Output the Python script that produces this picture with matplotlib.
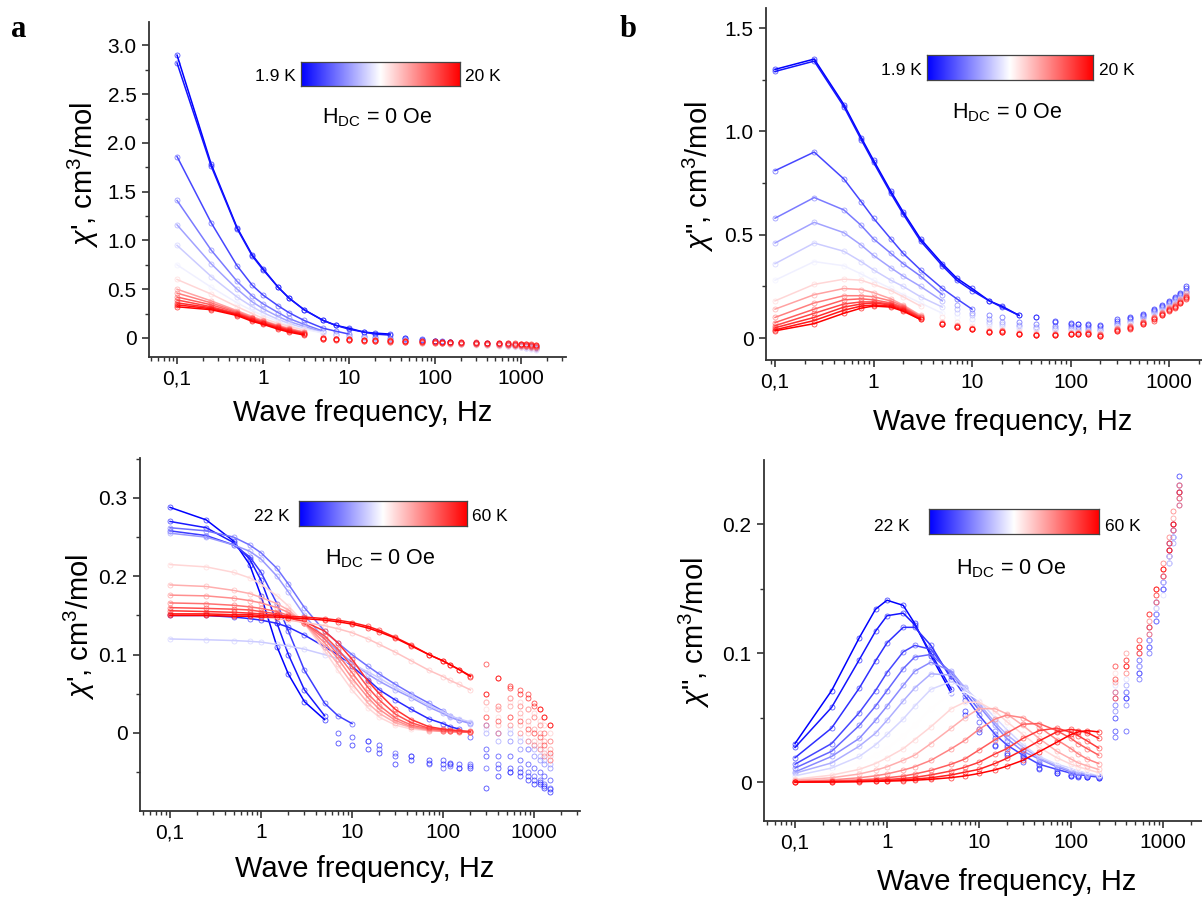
import matplotlib.pyplot as plt
import numpy as np
from matplotlib.ticker import FixedLocator, LogLocator, MultipleLocator, NullFormatter, FuncFormatter

plt.rcParams['font.family'] = ['Liberation Sans', 'DejaVu Sans']
plt.rcParams['mathtext.fontset'] = 'custom'
plt.rcParams['mathtext.rm'] = 'Liberation Sans'
plt.rcParams['mathtext.it'] = 'Liberation Sans:italic'

# measured frequencies, Hz
freq = [0.1, 0.25, 0.5, 0.75, 1, 1.5, 2, 3, 5, 7, 10, 15, 20, 30, 45, 70, 100,
        120, 150, 200, 300, 400, 550, 700, 850, 1000, 1150, 1300, 1500]

# ---- 1.9 - 20 K ----
low_cpos = [0.0, 0.04, 0.14, 0.24, 0.32, 0.40, 0.47, 0.58, 0.68, 0.75, 0.81, 0.86, 0.91, 0.955, 1.0]
low_chi1_end = [30, 30, 10, 5, 5, 5, 5, 3, 3, 3, 3, 3, 3, 3, 3]
low_chi2_end = [30, 30, 10, 5, 5, 5, 5, 3, 3, 3, 3, 3, 3, 3, 3]

low_chi1 = [
    [2.90, 1.78, 1.13, 0.85, 0.71, 0.52, 0.41, 0.29, 0.18, 0.13, 0.10, 0.06, 0.05, 0.04, 0.00, -0.02, -0.03, -0.04, -0.04, -0.05, -0.05, -0.05, -0.06, -0.06, -0.07, -0.07, -0.08, -0.08, -0.09],
    [2.82, 1.76, 1.12, 0.84, 0.70, 0.52, 0.41, 0.29, 0.18, 0.13, 0.09, 0.06, 0.04, 0.03, 0.00, -0.01, -0.03, -0.03, -0.04, -0.05, -0.05, -0.06, -0.06, -0.07, -0.07, -0.08, -0.08, -0.09, -0.10],
    [1.86, 1.18, 0.74, 0.54, 0.44, 0.33, 0.26, 0.18, 0.10, 0.07, 0.04, 0.02, 0.01, 0.00, -0.01, -0.02, -0.03, -0.04, -0.04, -0.05, -0.05, -0.06, -0.06, -0.07, -0.07, -0.08, -0.09, -0.09, -0.10],
    [1.41, 0.90, 0.58, 0.43, 0.35, 0.26, 0.20, 0.14, 0.07, 0.04, 0.02, 0.01, 0.00, -0.01, -0.02, -0.03, -0.04, -0.04, -0.05, -0.05, -0.06, -0.06, -0.07, -0.07, -0.08, -0.08, -0.09, -0.10, -0.11],
    [1.16, 0.76, 0.50, 0.37, 0.30, 0.22, 0.17, 0.12, 0.06, 0.03, 0.01, 0.00, -0.01, -0.02, -0.02, -0.03, -0.04, -0.05, -0.05, -0.06, -0.06, -0.07, -0.07, -0.08, -0.08, -0.09, -0.10, -0.10, -0.11],
    [0.95, 0.63, 0.42, 0.32, 0.26, 0.19, 0.15, 0.10, 0.055, 0.03, 0.01, 0.00, -0.01, -0.02, -0.03, -0.03, -0.04, -0.05, -0.05, -0.06, -0.06, -0.07, -0.07, -0.08, -0.08, -0.09, -0.10, -0.11, -0.12],
    [0.75, 0.52, 0.36, 0.28, 0.23, 0.17, 0.13, 0.09, 0.05, 0.02, 0.00, -0.01, -0.02, -0.02, -0.03, -0.04, -0.04, -0.05, -0.06, -0.06, -0.07, -0.07, -0.08, -0.08, -0.09, -0.09, -0.10, -0.11, -0.12],
    [0.60, 0.45, 0.32, 0.25, 0.20, 0.15, 0.12, 0.08, 0.02, 0.00, -0.01, -0.02, -0.03, -0.03, -0.04, -0.04, -0.05, -0.05, -0.06, -0.06, -0.07, -0.07, -0.08, -0.08, -0.08, -0.09, -0.09, -0.10, -0.11],
    [0.50, 0.38, 0.28, 0.22, 0.18, 0.13, 0.10, 0.06, 0.00, -0.01, -0.02, -0.03, -0.03, -0.04, -0.04, -0.05, -0.05, -0.05, -0.06, -0.06, -0.06, -0.07, -0.07, -0.07, -0.08, -0.08, -0.08, -0.09, -0.10],
    [0.46, 0.36, 0.27, 0.21, 0.17, 0.12, 0.09, 0.06, -0.01, -0.01, -0.02, -0.03, -0.03, -0.04, -0.04, -0.05, -0.05, -0.05, -0.05, -0.06, -0.06, -0.06, -0.07, -0.07, -0.07, -0.08, -0.08, -0.09, -0.09],
    [0.42, 0.34, 0.26, 0.20, 0.17, 0.12, 0.09, 0.05, -0.01, -0.02, -0.02, -0.03, -0.03, -0.04, -0.04, -0.04, -0.05, -0.05, -0.05, -0.05, -0.06, -0.06, -0.06, -0.07, -0.07, -0.07, -0.08, -0.08, -0.09],
    [0.39, 0.32, 0.25, 0.20, 0.16, 0.11, 0.08, 0.05, -0.01, -0.02, -0.02, -0.03, -0.03, -0.03, -0.04, -0.04, -0.04, -0.05, -0.05, -0.05, -0.05, -0.06, -0.06, -0.06, -0.07, -0.07, -0.07, -0.08, -0.08],
    [0.36, 0.31, 0.245, 0.19, 0.15, 0.11, 0.08, 0.04, -0.01, -0.01, -0.02, -0.02, -0.03, -0.03, -0.03, -0.04, -0.04, -0.04, -0.04, -0.05, -0.05, -0.05, -0.05, -0.06, -0.06, -0.06, -0.07, -0.07, -0.08],
    [0.34, 0.30, 0.24, 0.18, 0.15, 0.10, 0.07, 0.04, 0.00, -0.01, -0.01, -0.02, -0.02, -0.03, -0.03, -0.03, -0.04, -0.04, -0.04, -0.04, -0.05, -0.05, -0.05, -0.05, -0.06, -0.06, -0.06, -0.07, -0.07],
    [0.32, 0.29, 0.23, 0.17, 0.14, 0.09, 0.06, 0.03, 0.00, -0.01, -0.01, -0.02, -0.02, -0.02, -0.03, -0.03, -0.03, -0.04, -0.04, -0.04, -0.04, -0.05, -0.05, -0.05, -0.05, -0.06, -0.06, -0.06, -0.07],
]

low_chi2 = [
    [1.30, 1.35, 1.13, 0.97, 0.86, 0.71, 0.61, 0.48, 0.36, 0.29, 0.24, 0.18, 0.155, 0.11, 0.10, 0.085, 0.075, 0.07, 0.07, 0.065, 0.09, 0.10, 0.115, 0.14, 0.16, 0.18, 0.20, 0.22, 0.25],
    [1.29, 1.34, 1.12, 0.96, 0.85, 0.70, 0.60, 0.47, 0.35, 0.28, 0.23, 0.18, 0.15, 0.11, 0.10, 0.08, 0.07, 0.07, 0.065, 0.06, 0.085, 0.095, 0.11, 0.135, 0.155, 0.175, 0.195, 0.215, 0.24],
    [0.81, 0.90, 0.77, 0.66, 0.58, 0.48, 0.41, 0.33, 0.24, 0.19, 0.14, 0.11, 0.10, 0.08, 0.07, 0.06, 0.06, 0.055, 0.055, 0.05, 0.075, 0.09, 0.105, 0.13, 0.15, 0.17, 0.19, 0.21, 0.23],
    [0.58, 0.68, 0.62, 0.545, 0.48, 0.41, 0.36, 0.30, 0.21, 0.16, 0.12, 0.09, 0.08, 0.065, 0.055, 0.05, 0.05, 0.045, 0.045, 0.04, 0.07, 0.085, 0.10, 0.125, 0.145, 0.165, 0.185, 0.205, 0.225],
    [0.46, 0.56, 0.51, 0.45, 0.40, 0.34, 0.30, 0.25, 0.18, 0.14, 0.11, 0.08, 0.07, 0.06, 0.05, 0.045, 0.045, 0.04, 0.04, 0.04, 0.065, 0.08, 0.095, 0.12, 0.14, 0.16, 0.18, 0.20, 0.22],
    [0.36, 0.46, 0.42, 0.37, 0.33, 0.28, 0.25, 0.20, 0.15, 0.12, 0.09, 0.07, 0.06, 0.05, 0.045, 0.04, 0.04, 0.035, 0.035, 0.035, 0.06, 0.075, 0.09, 0.115, 0.135, 0.155, 0.175, 0.195, 0.215],
    [0.28, 0.37, 0.35, 0.31, 0.28, 0.24, 0.21, 0.17, 0.12, 0.10, 0.08, 0.06, 0.05, 0.045, 0.04, 0.035, 0.035, 0.03, 0.03, 0.03, 0.055, 0.07, 0.085, 0.11, 0.13, 0.15, 0.17, 0.19, 0.21],
    [0.18, 0.26, 0.285, 0.28, 0.26, 0.23, 0.20, 0.155, 0.10, 0.08, 0.06, 0.045, 0.04, 0.035, 0.03, 0.03, 0.03, 0.03, 0.03, 0.025, 0.05, 0.065, 0.08, 0.10, 0.12, 0.145, 0.16, 0.18, 0.20],
    [0.14, 0.21, 0.24, 0.235, 0.22, 0.19, 0.16, 0.11, 0.08, 0.065, 0.05, 0.035, 0.04, 0.025, 0.02, 0.02, 0.025, 0.03, 0.03, 0.02, 0.05, 0.06, 0.085, 0.10, 0.125, 0.15, 0.165, 0.19, 0.22],
    [0.10, 0.17, 0.205, 0.205, 0.20, 0.18, 0.155, 0.105, 0.075, 0.06, 0.05, 0.035, 0.035, 0.025, 0.02, 0.02, 0.025, 0.025, 0.03, 0.02, 0.045, 0.06, 0.08, 0.10, 0.12, 0.145, 0.16, 0.185, 0.21],
    [0.075, 0.14, 0.185, 0.19, 0.185, 0.17, 0.15, 0.10, 0.075, 0.06, 0.045, 0.035, 0.035, 0.02, 0.015, 0.02, 0.02, 0.025, 0.025, 0.015, 0.045, 0.055, 0.08, 0.095, 0.12, 0.14, 0.155, 0.18, 0.205],
    [0.06, 0.12, 0.165, 0.175, 0.175, 0.165, 0.145, 0.10, 0.07, 0.06, 0.045, 0.03, 0.035, 0.02, 0.015, 0.015, 0.02, 0.02, 0.025, 0.015, 0.04, 0.055, 0.075, 0.095, 0.115, 0.14, 0.155, 0.175, 0.20],
    [0.05, 0.10, 0.15, 0.165, 0.17, 0.16, 0.14, 0.095, 0.07, 0.055, 0.045, 0.03, 0.03, 0.02, 0.015, 0.015, 0.02, 0.02, 0.02, 0.01, 0.04, 0.05, 0.075, 0.09, 0.115, 0.135, 0.15, 0.175, 0.20],
    [0.04, 0.085, 0.135, 0.155, 0.16, 0.155, 0.135, 0.09, 0.07, 0.055, 0.045, 0.03, 0.03, 0.02, 0.015, 0.015, 0.02, 0.02, 0.02, 0.01, 0.035, 0.05, 0.07, 0.09, 0.11, 0.135, 0.15, 0.17, 0.195],
    [0.035, 0.07, 0.12, 0.145, 0.155, 0.15, 0.13, 0.09, 0.07, 0.055, 0.045, 0.03, 0.03, 0.02, 0.015, 0.015, 0.02, 0.02, 0.02, 0.01, 0.035, 0.045, 0.07, 0.085, 0.11, 0.13, 0.145, 0.17, 0.19],
]

# ---- 22 - 60 K ----
high_chi1_cpos = [0.0, 0.05, 0.12, 0.08, 0.22, 0.30, 0.40, 0.58, 0.66, 0.72, 0.78, 0.84, 0.90, 0.62, 0.95, 1.0]
high_chi1_end = [5, 5, 10, 150, 200, 200, 200, 200, 200, 200, 200, 200, 200, 200, 200, 200]
high_chi1 = [
    [0.288, 0.272, 0.245, 0.215, 0.175, 0.11, 0.075, 0.04, 0.017, -0.013, -0.015, -0.02, -0.025, -0.04, -0.035, -0.035, -0.04, -0.04, -0.045, -0.045, -0.07, -0.055, -0.05, -0.05, -0.06, -0.065, -0.065, -0.07, -0.075],
    [0.270, 0.262, 0.243, 0.222, 0.195, 0.14, 0.10, 0.055, 0.022, 0.0, -0.005, -0.01, -0.015, -0.03, -0.03, -0.038, -0.035, -0.038, -0.04, -0.042, -0.03, -0.045, -0.045, -0.055, -0.055, -0.06, -0.062, -0.068, -0.072],
    [0.258, 0.252, 0.240, 0.225, 0.205, 0.165, 0.13, 0.08, 0.038, 0.022, 0.012, -0.01, -0.02, -0.025, -0.03, -0.04, -0.045, -0.042, -0.045, -0.04, -0.045, -0.04, -0.05, -0.045, -0.05, -0.055, -0.06, -0.065, -0.07],
    [0.150, 0.150, 0.148, 0.146, 0.144, 0.14, 0.135, 0.125, 0.11, 0.10, 0.085, 0.068, 0.055, 0.042, 0.030, 0.018, 0.012, 0.008, 0.005, -0.005, -0.02, -0.03, -0.03, -0.035, -0.04, -0.045, -0.05, -0.055, -0.06],
    [0.262, 0.258, 0.25, 0.24, 0.23, 0.21, 0.19, 0.16, 0.13, 0.115, 0.10, 0.085, 0.075, 0.062, 0.05, 0.038, 0.028, 0.022, 0.017, 0.013, 0.01, 0.0, -0.01, -0.02, -0.02, -0.03, -0.035, -0.04, -0.045],
    [0.255, 0.250, 0.240, 0.232, 0.222, 0.20, 0.18, 0.15, 0.12, 0.105, 0.09, 0.075, 0.066, 0.055, 0.045, 0.033, 0.025, 0.02, 0.016, 0.012, 0.0, -0.01, 0.0, -0.01, -0.02, -0.02, -0.03, -0.035, -0.04],
    [0.120, 0.119, 0.118, 0.117, 0.116, 0.113, 0.111, 0.107, 0.10, 0.095, 0.088, 0.078, 0.07, 0.058, 0.047, 0.035, 0.027, 0.022, 0.018, 0.014, 0.005, 0.0, 0.005, -0.005, -0.01, -0.015, -0.02, -0.025, -0.03],
    [0.215, 0.212, 0.205, 0.198, 0.19, 0.175, 0.162, 0.14, 0.105, 0.08, 0.055, 0.032, 0.02, 0.01, 0.005, 0.003, 0.002, 0.002, 0.001, 0.001, 0.03, 0.02, 0.04, 0.02, 0.01, 0.0, -0.01, -0.02, -0.03],
    [0.189, 0.187, 0.182, 0.178, 0.173, 0.165, 0.157, 0.14, 0.11, 0.088, 0.063, 0.038, 0.025, 0.013, 0.007, 0.003, 0.002, 0.002, 0.001, 0.001, 0.02, 0.01, 0.02, 0.01, 0.0, -0.01, -0.015, -0.025, -0.035],
    [0.176, 0.175, 0.172, 0.169, 0.166, 0.16, 0.154, 0.14, 0.115, 0.095, 0.07, 0.045, 0.03, 0.016, 0.008, 0.004, 0.002, 0.002, 0.001, 0.001, 0.04, 0.03, 0.035, 0.025, 0.015, 0.005, 0.0, -0.01, -0.02],
    [0.166, 0.165, 0.163, 0.161, 0.159, 0.155, 0.15, 0.14, 0.12, 0.10, 0.077, 0.05, 0.035, 0.019, 0.01, 0.005, 0.003, 0.002, 0.002, 0.001, 0.01, 0.0, 0.01, 0.0, -0.01, -0.015, -0.02, -0.03, -0.035],
    [0.160, 0.159, 0.158, 0.157, 0.155, 0.152, 0.148, 0.14, 0.124, 0.107, 0.085, 0.058, 0.042, 0.024, 0.013, 0.006, 0.004, 0.003, 0.002, 0.001, 0.05, 0.035, 0.045, 0.035, 0.03, 0.02, 0.01, 0.0, -0.01],
    [0.156, 0.155, 0.154, 0.153, 0.152, 0.15, 0.147, 0.142, 0.13, 0.115, 0.094, 0.066, 0.05, 0.03, 0.017, 0.008, 0.005, 0.004, 0.003, 0.002, 0.02, 0.015, 0.02, 0.015, 0.005, 0.0, -0.005, -0.015, -0.025],
    [0.152, 0.151, 0.15, 0.149, 0.148, 0.146, 0.144, 0.141, 0.137, 0.133, 0.128, 0.12, 0.113, 0.103, 0.092, 0.08, 0.072, 0.067, 0.062, 0.055, 0.04, 0.03, 0.045, 0.04, 0.03, 0.025, 0.015, 0.01, 0.0],
    [0.152, 0.152, 0.151, 0.151, 0.150, 0.150, 0.149, 0.148, 0.146, 0.144, 0.141, 0.136, 0.131, 0.122, 0.112, 0.10, 0.092, 0.087, 0.081, 0.073, 0.088, 0.07, 0.058, 0.055, 0.05, 0.035, 0.03, 0.02, 0.01],
    [0.150, 0.150, 0.149, 0.149, 0.148, 0.148, 0.147, 0.146, 0.144, 0.142, 0.139, 0.134, 0.129, 0.121, 0.111, 0.10, 0.092, 0.087, 0.081, 0.072, 0.05, 0.07, 0.06, 0.05, 0.045, 0.038, 0.03, 0.02, 0.01],
]

high_chi2_cpos = [0.0, 0.04, 0.09, 0.14, 0.20, 0.27, 0.34, 0.42, 0.50, 0.58, 0.66, 0.74, 0.82, 0.88, 0.94, 1.0]
high_chi2_end = [5, 5, 5, 200, 10, 200, 200, 200, 200, 200, 200, 200, 200, 200, 200, 200]
high_chi2 = [
    [0.030, 0.071, 0.112, 0.134, 0.141, 0.137, 0.123, 0.098, 0.069, 0.052, 0.039, 0.028, 0.021, 0.020, 0.010, 0.007, 0.005, 0.004, 0.004, 0.003, 0.050, 0.065, 0.085, 0.105, 0.130, 0.150, 0.180, 0.195, 0.237],
    [0.027, 0.058, 0.095, 0.117, 0.129, 0.131, 0.122, 0.100, 0.072, 0.055, 0.041, 0.029, 0.023, 0.016, 0.011, 0.007, 0.005, 0.005, 0.004, 0.003, 0.040, 0.070, 0.090, 0.110, 0.125, 0.155, 0.175, 0.190, 0.225],
    [0.019, 0.042, 0.073, 0.094, 0.108, 0.120, 0.120, 0.106, 0.080, 0.064, 0.047, 0.034, 0.027, 0.019, 0.013, 0.009, 0.006, 0.005, 0.004, 0.004, 0.035, 0.040, 0.095, 0.120, 0.140, 0.160, 0.185, 0.200, 0.230],
    [0.014, 0.030, 0.054, 0.071, 0.085, 0.101, 0.106, 0.103, 0.082, 0.067, 0.052, 0.037, 0.029, 0.021, 0.014, 0.010, 0.007, 0.006, 0.005, 0.004, 0.060, 0.065, 0.080, 0.100, 0.130, 0.155, 0.175, 0.195, 0.225],
    [0.011, 0.024, 0.044, 0.059, 0.071, 0.088, 0.097, 0.099, 0.085, 0.070, 0.056, 0.040, 0.032, 0.023, 0.016, 0.011, 0.008, 0.007, 0.006, 0.005, 0.055, 0.060, 0.085, 0.110, 0.135, 0.150, 0.170, 0.190, 0.220],
    [0.008, 0.020, 0.034, 0.048, 0.059, 0.075, 0.086, 0.093, 0.086, 0.073, 0.059, 0.044, 0.034, 0.024, 0.018, 0.012, 0.008, 0.007, 0.006, 0.005, 0.070, 0.075, 0.090, 0.105, 0.125, 0.150, 0.170, 0.185, 0.215],
    [0.007, 0.015, 0.028, 0.038, 0.048, 0.063, 0.073, 0.084, 0.083, 0.074, 0.061, 0.046, 0.037, 0.027, 0.019, 0.013, 0.009, 0.008, 0.0065, 0.005, 0.065, 0.070, 0.100, 0.115, 0.140, 0.160, 0.180, 0.200, 0.230],
    [0.005, 0.011, 0.020, 0.029, 0.037, 0.049, 0.059, 0.072, 0.078, 0.073, 0.063, 0.050, 0.041, 0.029, 0.020, 0.014, 0.011, 0.009, 0.007, 0.006, 0.075, 0.080, 0.090, 0.110, 0.130, 0.145, 0.175, 0.195, 0.215],
    [0.0035, 0.008, 0.015, 0.021, 0.026, 0.036, 0.044, 0.057, 0.069, 0.070, 0.064, 0.053, 0.044, 0.033, 0.024, 0.016, 0.012, 0.010, 0.0085, 0.006, 0.080, 0.085, 0.100, 0.120, 0.135, 0.155, 0.170, 0.190, 0.220],
    [0.0024, 0.0055, 0.010, 0.0145, 0.019, 0.026, 0.033, 0.043, 0.057, 0.062, 0.062, 0.055, 0.047, 0.037, 0.027, 0.019, 0.014, 0.012, 0.010, 0.0075, 0.085, 0.090, 0.105, 0.125, 0.140, 0.160, 0.175, 0.195, 0.225],
    [0.0016, 0.0035, 0.0064, 0.0093, 0.012, 0.017, 0.021, 0.030, 0.042, 0.050, 0.057, 0.057, 0.053, 0.044, 0.034, 0.024, 0.018, 0.015, 0.0127, 0.0099, 0.090, 0.095, 0.110, 0.120, 0.145, 0.165, 0.180, 0.200, 0.230],
    [0.0008, 0.0018, 0.0035, 0.005, 0.0065, 0.0094, 0.012, 0.017, 0.026, 0.0325, 0.041, 0.049, 0.052, 0.050, 0.043, 0.033, 0.026, 0.022, 0.018, 0.0145, 0.078, 0.100, 0.100, 0.125, 0.150, 0.160, 0.185, 0.205, 0.225],
    [0.0004, 0.001, 0.0018, 0.0026, 0.0035, 0.0048, 0.0064, 0.0092, 0.014, 0.018, 0.025, 0.033, 0.038, 0.045, 0.0455, 0.040, 0.034, 0.030, 0.026, 0.021, 0.070, 0.085, 0.105, 0.130, 0.150, 0.170, 0.190, 0.210, 0.230],
    [0.0003, 0.0006, 0.0011, 0.0016, 0.0021, 0.003, 0.0038, 0.0057, 0.0088, 0.0116, 0.0155, 0.022, 0.026, 0.034, 0.040, 0.042, 0.0386, 0.036, 0.032, 0.0265, 0.090, 0.090, 0.110, 0.115, 0.140, 0.160, 0.180, 0.195, 0.215],
    [0.0002, 0.0004, 0.0007, 0.0011, 0.0013, 0.002, 0.0025, 0.0035, 0.0057, 0.0078, 0.010, 0.0146, 0.0185, 0.025, 0.032, 0.039, 0.041, 0.040, 0.0385, 0.034, 0.080, 0.095, 0.100, 0.130, 0.145, 0.165, 0.185, 0.200, 0.220],
    [0.0001, 0.0002, 0.0004, 0.0007, 0.0009, 0.0012, 0.0016, 0.0023, 0.0036, 0.0049, 0.0068, 0.0096, 0.0124, 0.017, 0.0236, 0.031, 0.037, 0.039, 0.040, 0.039, 0.065, 0.090, 0.105, 0.120, 0.150, 0.165, 0.180, 0.200, 0.225],
]

cmap = plt.cm.bwr
W, H = 1202, 899

fig = plt.figure(figsize=(W / 100, H / 100), dpi=100)


def px_rect(x0, y0, x1, y1):
    # pixel box (top-left origin) -> figure fraction rect
    return [x0 / W, 1 - y1 / H, (x1 - x0) / W, (y1 - y0) / H]


def draw_curves(ax, rows, cpos, ends):
    f = np.array(freq)
    for vals, c, e in zip(rows, cpos, ends):
        col = cmap(c)
        v = np.array(vals)
        ax.plot(f, v, 'o', ms=3.6, mfc='none', mec=col, mew=0.6, alpha=0.7)
        k = freq.index(e) + 1
        ax.plot(f[:k], v[:k], '-', color=col, lw=1.1)


def style_axes(ax, xlim, ylim, ymajor, yticks_fmt):
    ax.set_xscale('log')
    ax.set_xlim(xlim)
    ax.set_ylim(ylim)
    for s in ['top', 'right']:
        ax.spines[s].set_visible(False)
    for s in ['left', 'bottom']:
        ax.spines[s].set_linewidth(1.3)
        ax.spines[s].set_color('#333333')
    ax.xaxis.set_major_locator(FixedLocator([0.1, 1, 10, 100, 1000]))
    ax.xaxis.set_major_formatter(FuncFormatter(lambda v, p: {0.1: '0,1'}.get(round(v, 3), '%g' % v)))
    ax.xaxis.set_minor_locator(LogLocator(base=10, subs=np.arange(2, 10), numticks=30))
    ax.xaxis.set_minor_formatter(NullFormatter())
    ax.yaxis.set_major_locator(MultipleLocator(ymajor))
    ax.yaxis.set_minor_locator(MultipleLocator(ymajor / 2))
    ax.yaxis.set_major_formatter(FuncFormatter(lambda v, p: '0' if abs(v) < 1e-9 else yticks_fmt % v))
    ax.tick_params(which='major', direction='out', length=5, width=1.2, labelsize=15,
                   color='#333333', pad=4)
    ax.tick_params(which='minor', direction='out', length=2.6, width=1.0, color='#333333')
    ax.patch.set_alpha(0)


def colorbar(rect, lo, hi, lo_xy, hi_xy):
    cax = fig.add_axes(rect)
    cax.imshow(np.linspace(0, 1, 256)[None, :], aspect='auto', cmap=cmap, extent=[0, 1, 0, 1])
    cax.set_xticks([])
    cax.set_yticks([])
    for s in cax.spines.values():
        s.set_linewidth(0.9)
        s.set_color('#444444')
    fig.text(lo_xy[0] / W, 1 - lo_xy[1] / H, lo, ha='right', va='baseline', fontsize=12.5)
    fig.text(hi_xy[0] / W, 1 - hi_xy[1] / H, hi, ha='left', va='baseline', fontsize=12.5)


def label(x, y, s, **kw):
    fig.text(x / W, 1 - y / H, s, **kw)


chi1_lab = "$\\chi$', cm$^3$/mol"
chi2_lab = '$\\chi$", cm$^3$/mol'
hdc = 'H$_{\\rm DC}$ = 0 Oe'
xlab = 'Wave frequency, Hz'
lab_fs = 21

# panel a, top
ax1 = fig.add_axes(px_rect(149, 22, 566, 357))
draw_curves(ax1, low_chi1, low_cpos, low_chi1_end)
style_axes(ax1, (0.0472, 3334), (-0.195, 3.24), 0.5, '%.1f')
colorbar(px_rect(301, 62, 460, 86), '1.9 K', '20 K', (296, 81), (465, 81))
label(377, 123, hdc, ha='center', va='baseline', fontsize=15.5)
label(363, 421, xlab, ha='center', va='baseline', fontsize=lab_fs)
label(83, 175, chi1_lab, ha='center', va='center', rotation=90, fontsize=lab_fs)

# panel b, top
ax2 = fig.add_axes(px_rect(766, 8, 1202, 360))
draw_curves(ax2, low_chi2, low_cpos, low_chi2_end)
style_axes(ax2, (0.081, 2163), (-0.106, 1.597), 0.5, '%.1f')
colorbar(px_rect(927, 55, 1093, 80), '1.9 K', '20 K', (922, 75), (1099, 75))
label(1007, 118, hdc, ha='center', va='baseline', fontsize=15.5)
label(1003, 430, xlab, ha='center', va='baseline', fontsize=lab_fs)
label(698, 177, chi2_lab, ha='center', va='center', rotation=90, fontsize=lab_fs)

# panel a, bottom
ax3 = fig.add_axes(px_rect(140, 458, 580, 811))
draw_curves(ax3, high_chi1, high_chi1_cpos, high_chi1_end)
style_axes(ax3, (0.0468, 3200), (-0.0996, 0.351), 0.1, '%.1f')
colorbar(px_rect(299, 501, 467, 526), '22 K', '60 K', (290, 521), (472, 521))
label(380, 564, hdc, ha='center', va='baseline', fontsize=15.5)
label(365, 877, xlab, ha='center', va='baseline', fontsize=lab_fs)
label(79, 627, chi1_lab, ha='center', va='center', rotation=90, fontsize=lab_fs)

# panel b, bottom
ax4 = fig.add_axes(px_rect(764, 460, 1202, 821))
draw_curves(ax4, high_chi2, high_chi2_cpos, high_chi2_end)
style_axes(ax4, (0.046, 2655), (-0.030, 0.2496), 0.1, '%.1f')
colorbar(px_rect(929, 509, 1099, 534), '22 K', '60 K', (910, 531), (1105, 531))
label(1011, 574, hdc, ha='center', va='baseline', fontsize=15.5)
label(1007, 890, xlab, ha='center', va='baseline', fontsize=lab_fs)
label(694, 633, chi2_lab, ha='center', va='center', rotation=90, fontsize=lab_fs)

# panel letters
label(11, 37, 'a', ha='left', va='baseline', fontsize=22, fontweight='bold', family='Liberation Serif')
label(620, 37, 'b', ha='left', va='baseline', fontsize=22, fontweight='bold', family='Liberation Serif')

fig.savefig('out.png', dpi=100)
